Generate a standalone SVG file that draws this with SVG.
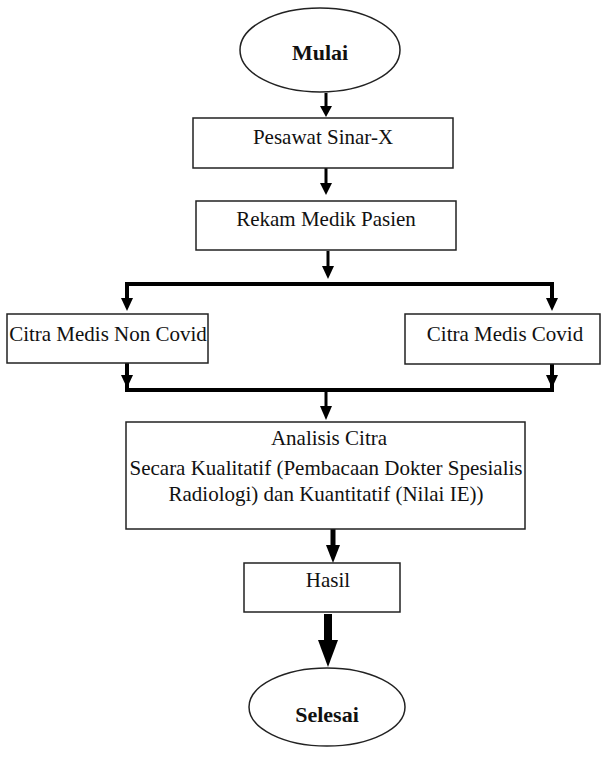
<svg xmlns="http://www.w3.org/2000/svg" width="603" height="757" viewBox="0 0 603 757">
<style>
.box{fill:#fff;stroke:#222;stroke-width:1.5}
.t{font-family:"Liberation Serif","Times New Roman",serif;font-size:21px;fill:#111;text-anchor:middle}
.b{font-weight:bold;font-size:22px}
.ln{stroke:#000;fill:none;stroke-linecap:butt}
.hd{fill:#000}
</style>
<rect width="603" height="757" fill="#fff"/>
<g id="connectors">
  <line class="ln" x1="326" y1="93" x2="326" y2="108" stroke-width="3"/>
  <polygon class="hd" points="320,106 332,106 326,117"/>
  <line class="ln" x1="326" y1="168" x2="326" y2="185" stroke-width="3"/>
  <polygon class="hd" points="320,183 332,183 326,195"/>
  <line class="ln" x1="328" y1="251" x2="328" y2="268" stroke-width="3"/>
  <polygon class="hd" points="322,266 334,266 328,279"/>
  <polyline class="ln" points="127,300 127,284 552,284 552,300" stroke-width="4"/>
  <polygon class="hd" points="121,298 133,298 127,311"/>
  <polygon class="hd" points="546,298 558,298 552,311"/>
  <polyline class="ln" points="127,363 127,390 552,390 552,364" stroke-width="4"/>
  <polygon class="hd" points="121,375 133,375 127,388"/>
  <polygon class="hd" points="546,375 558,375 552,388"/>
  <line class="ln" x1="326" y1="391" x2="326" y2="408" stroke-width="3"/>
  <polygon class="hd" points="320,406 332,406 326,420"/>
  <line class="ln" x1="333" y1="529" x2="333" y2="548" stroke-width="5"/>
  <polygon class="hd" points="326,545 340,545 333,563"/>
  <line class="ln" x1="328" y1="614" x2="328" y2="645" stroke-width="8"/>
  <polygon class="hd" points="318,640 338,640 328,667"/>
</g>
<g id="mulai">
  <ellipse class="box" cx="320" cy="50" rx="80" ry="42"/>
  <text class="t b" x="320" y="60">Mulai</text>
</g>
<g id="pesawat">
  <rect class="box" x="193" y="118" width="260" height="50"/>
  <text class="t" x="323" y="144">Pesawat Sinar-X</text>
</g>
<g id="rekam">
  <rect class="box" x="196" y="201" width="260" height="49"/>
  <text class="t" x="326" y="226">Rekam Medik Pasien</text>
</g>
<g id="noncovid">
  <rect class="box" x="7" y="314" width="201" height="49"/>
  <text class="t" x="108" y="341">Citra Medis Non Covid</text>
</g>
<g id="covid">
  <rect class="box" x="405" y="314" width="195" height="50"/>
  <text class="t" x="505" y="341">Citra Medis Covid</text>
</g>
<g id="analisis">
  <rect class="box" x="126" y="422" width="399" height="107"/>
  <text class="t" x="329" y="445">Analisis Citra</text>
  <text class="t" x="326" y="475">Secara Kualitatif (Pembacaan Dokter Spesialis</text>
  <text class="t" x="326" y="501">Radiologi) dan Kuantitatif (Nilai IE))</text>
</g>
<g id="hasil">
  <rect class="box" x="244" y="563" width="156" height="49"/>
  <text class="t" x="328" y="587">Hasil</text>
</g>
<g id="selesai">
  <ellipse class="box" cx="327" cy="707" rx="78" ry="39"/>
  <text class="t b" x="327" y="722">Selesai</text>
</g>
</svg>
